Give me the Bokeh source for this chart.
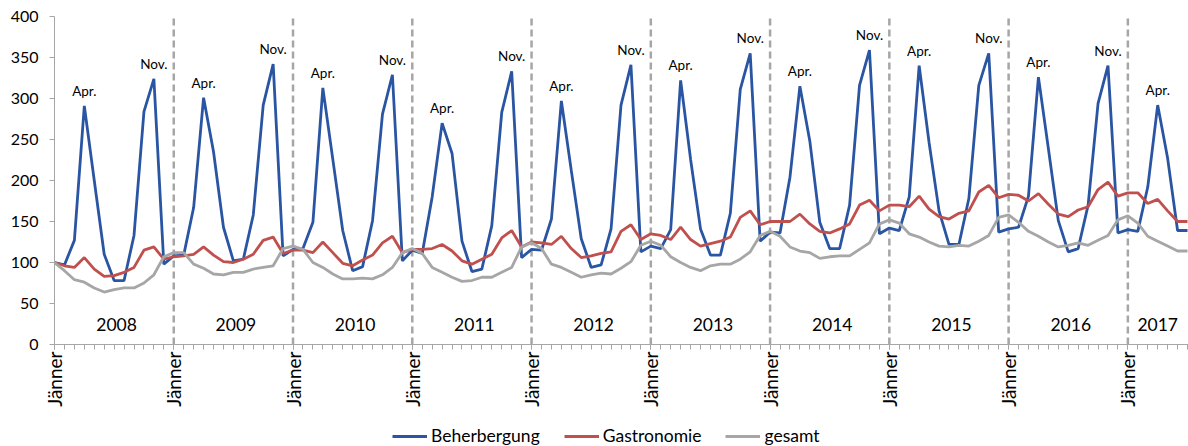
import math
from bokeh.plotting import figure
from bokeh.layouts import column
from bokeh.models import FixedTicker, Legend, LegendItem, Range1d
from bokeh.core.properties import value
from bokeh.embed import file_html
from bokeh.resources import INLINE

# Monthly index values, Jan 2008 .. Jul 2017 (2008 Jan = 100)
beherbergung = [
    100, 97, 127, 291, 200, 110, 78, 78, 133, 284, 324, 98,
    108, 109, 167, 301, 235, 143, 102, 104, 158, 292, 342, 108,
    116, 117, 149, 313, 226, 139, 90, 95, 151, 281, 329, 102,
    115, 111, 180, 270, 233, 126, 89, 92, 145, 283, 333, 106,
    116, 115, 153, 297, 212, 129, 94, 97, 141, 292, 341, 113,
    120, 117, 140, 322, 226, 141, 109, 109, 160, 311, 355, 126,
    137, 136, 204, 315, 248, 149, 117, 117, 170, 316, 359, 135,
    142, 139, 180, 340, 246, 163, 122, 122, 178, 316, 355, 137,
    141, 143, 181, 326, 239, 151, 113, 117, 170, 294, 340, 136,
    140, 138, 192, 292, 227, 139, 139,
]
gastronomie = [
    100, 96, 94, 106, 92, 83, 84, 88, 94, 115, 119, 104,
    107, 108, 110, 119, 109, 101, 100, 104, 110, 127, 131, 111,
    115, 115, 112, 125, 112, 99, 96, 103, 109, 124, 132, 112,
    116, 116, 117, 122, 114, 102, 98, 104, 110, 130, 139, 119,
    125, 124, 122, 132, 117, 106, 108, 111, 113, 138, 146, 128,
    135, 133, 128, 143, 128, 120, 123, 126, 131, 155, 163, 146,
    150, 150, 150, 159, 147, 138, 136, 141, 147, 170, 176, 163,
    170, 170, 168, 181, 165, 156, 153, 160, 163, 186, 194, 179,
    183, 182, 175, 184, 171, 159, 156, 164, 168, 189, 198, 181,
    185, 185, 172, 177, 163, 150, 150,
]
gesamt = [
    100, 90, 79, 76, 69, 64, 67, 69, 69, 75, 85, 107,
    112, 112, 98, 93, 86, 85, 88, 88, 92, 94, 96, 117,
    120, 116, 100, 94, 86, 80, 80, 81, 80, 85, 94, 112,
    117, 111, 94, 88, 82, 77, 78, 82, 82, 88, 94, 119,
    124, 117, 98, 94, 88, 82, 85, 87, 86, 93, 101, 121,
    126, 121, 107, 100, 94, 90, 96, 98, 98, 104, 113, 133,
    138, 132, 119, 114, 112, 105, 107, 108, 108, 116, 124, 147,
    152, 148, 135, 131, 125, 120, 119, 121, 120, 126, 133, 155,
    158, 149, 138, 132, 125, 119, 121, 124, 121, 127, 133, 152,
    157, 148, 132, 126, 120, 114, 114,
]
years = ["2008", "2009", "2010", "2011", "2012", "2013", "2014", "2015", "2016", "2017"]
tick_label = "Jänner"
apr_label = "Apr."
nov_label = "Nov."
y_ticks = [0, 50, 100, 150, 200, 250, 300, 350, 400]
series_names = ["Beherbergung", "Gastronomie", "gesamt"]

FONT = "Lato"
BLUE = "#2A55A3"
RED = "#C0504D"
GRAY = "#A6A6A6"
LW = 2.8

n = len(beherbergung)
xs = list(range(n))
last = n - 1
jan_idx = list(range(0, n, 12))

W = 1188
LEG_H = 22
p = figure(width=W, height=446 - LEG_H, output_backend="svg", toolbar_location=None,
           x_range=Range1d(0, last + 0.1), y_range=Range1d(0, 400),
           min_border_left=54, min_border_right=0, min_border_top=16,
           min_border_bottom=446 - LEG_H - 344)
p.outline_line_color = None
p.grid.visible = False

# year separators (dashed) at each January except the first
sep = [i for i in jan_idx if i > 0]
p.segment(x0=sep, x1=sep, y0=[0] * len(sep), y1=[400] * len(sep),
          line_color=GRAY, line_width=2.5, line_dash="7 4")

p.line(xs, beherbergung, line_color=BLUE, line_width=LW)
p.line(xs, gastronomie, line_color=RED, line_width=LW)
p.line(xs, gesamt, line_color=GRAY, line_width=LW)

# year labels centered in each year's span
yx = []
for k, _ in enumerate(years):
    s = 12 * k
    e = min(s + 12.5, last)
    yx.append((s + e) / 2)
p.text(x=yx, y=[25] * len(years), text=years, text_align="center",
       text_baseline="middle", text_font=value(FONT), text_font_size="17.5px",
       text_color="black")

# Apr./Nov. peak annotations
px, py, pt = [], [], []
for k in range(len(years)):
    a = 12 * k + 3
    nv = 12 * k + 10
    if a < n:
        px.append(a); py.append(beherbergung[a]); pt.append(apr_label)
    if nv < n:
        px.append(nv); py.append(beherbergung[nv]); pt.append(nov_label)
p.text(x=px, y=py, text=pt, text_align="center", text_baseline="bottom",
       y_offset=-7, text_font=value(FONT), text_font_size="13.5px", text_color="black")

# axes
p.xaxis.ticker = FixedTicker(ticks=jan_idx, minor_ticks=xs)
p.xaxis.major_label_overrides = {i: tick_label for i in jan_idx}
p.xaxis.major_label_orientation = math.pi / 2
p.xaxis.major_label_text_font = FONT
p.xaxis.major_label_text_font_size = "19px"
p.xaxis.major_label_text_color = "black"
p.xaxis.major_label_standoff = 2
p.xaxis.axis_line_color = GRAY
p.xaxis.major_tick_line_color = GRAY
p.xaxis.minor_tick_line_color = GRAY
p.xaxis.major_tick_in = 0
p.xaxis.major_tick_out = 5
p.xaxis.minor_tick_in = 0
p.xaxis.minor_tick_out = 5

p.yaxis.ticker = FixedTicker(ticks=y_ticks)
p.yaxis.major_label_text_font = FONT
p.yaxis.major_label_text_font_size = "16px"
p.yaxis.major_label_text_color = "black"
p.yaxis.major_label_standoff = 11
p.yaxis.axis_line_color = GRAY
p.yaxis.major_tick_line_color = GRAY
p.yaxis.minor_tick_line_color = None
p.yaxis.major_tick_in = 0
p.yaxis.major_tick_out = 5

# legend strip below the chart (series drawn out of view, only the legend shows)
lf = figure(width=W, height=LEG_H, output_backend="svg", toolbar_location=None,
            x_range=Range1d(10000, 10001), y_range=Range1d(0, 400),
            min_border_left=0, min_border_right=0, min_border_top=0,
            min_border_bottom=0)
lf.outline_line_color = None
lf.grid.visible = False
lf.axis.visible = False
l1 = lf.line(xs, beherbergung, line_color=BLUE, line_width=LW)
l2 = lf.line(xs, gastronomie, line_color=RED, line_width=LW)
l3 = lf.line(xs, gesamt, line_color=GRAY, line_width=LW)

legend = Legend(items=[LegendItem(label=series_names[0], renderers=[l1]),
                       LegendItem(label=series_names[1], renderers=[l2]),
                       LegendItem(label=series_names[2], renderers=[l3])],
                orientation="horizontal", location=(338, 0))
legend.border_line_color = None
legend.background_fill_alpha = 0
legend.label_text_font = FONT
legend.label_text_font_size = "17.5px"
legend.label_text_color = "black"
legend.glyph_width = 35
legend.glyph_height = 18
legend.label_standoff = 4
legend.spacing = 24
legend.padding = 0
legend.margin = 0
lf.add_layout(legend)

layout = column(p, lf, spacing=0)
open("out.html", "w").write(file_html(layout, INLINE))
